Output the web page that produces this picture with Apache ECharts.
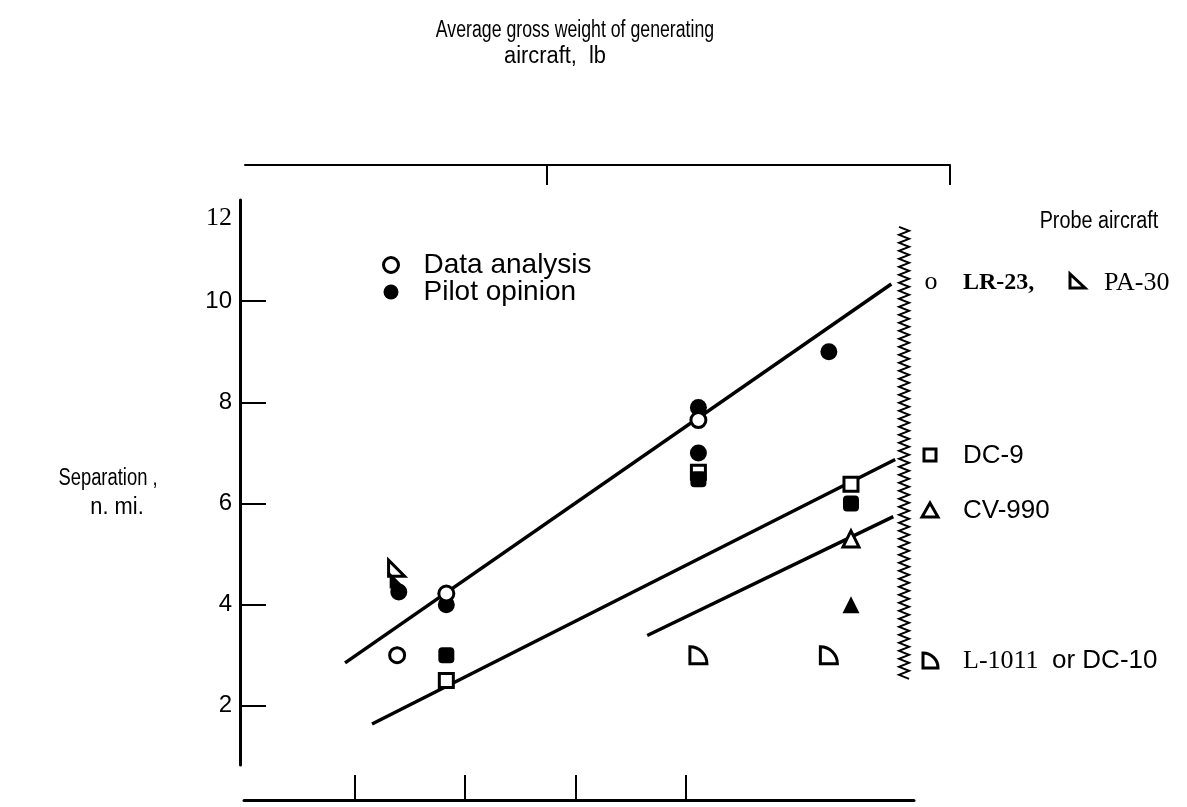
<!DOCTYPE html>
<html><head><meta charset="utf-8">
<script src="https://cdn.jsdelivr.net/npm/echarts@6/dist/echarts.min.js"></script>
<style>html,body{margin:0;padding:0;background:#fff}#c{width:1187px;height:807px}</style>
</head><body><div id="c"></div>
<script>
const SANS = "'Liberation Sans Narrow','Liberation Sans',Arial,sans-serif";
const SERIF = "'Liberation Serif','Times New Roman',serif";

// axis ticks
const yTicks = [2, 4, 6, 8, 10];
const yLabels = [2, 4, 6, 8, 10, 12];
const bottomTicks = [1, 2, 3, 4];
const topTicks = [5, 6];            // log10 of gross weight, lb

// data: [x (position along generating-aircraft axis), separation n.mi.]
const dataAnalysisLR23 = [[1.385, 3.0], [1.83, 4.22], [4.11, 7.65]];
const pilotLR23 = [[1.40, 4.25], [1.83, 4.0], [4.11, 7.9], [4.11, 7.0], [5.29, 9.0]];
const dataDC9 = [[1.83, 2.5], [4.11, 6.62], [5.49, 6.38]];
const pilotDC9 = [[1.83, 3.0], [4.11, 6.48], [5.49, 6.0]];
const dataCV990 = [[5.49, 5.3]];
const pilotCV990 = [[5.49, 4.0]];
const dataPA30 = [[1.38, 4.72]];
const pilotPA30 = [[1.39, 4.48]];
const dataL1011 = [[4.11, 3.0], [5.29, 3.0]];

// fitted lines
const fitLR23 = [[0.914, 2.85], [5.855, 10.34]];
const fitDC9 = [[1.158, 1.64], [5.89, 6.87]];
const fitCV990 = [[3.647, 3.39], [5.873, 5.74]];

// axis break (zigzag) location
const breakX = 5.97;
const breakY = [2.51, 11.47];

const RTRI = 'path://M0,0 L0,10 L10,10 Z';
const QUART = 'path://M0,0 L0,10 L10,10 A10,10 0 0 0 0,0 Z';

const openStyle = {color: '#fff', borderColor: '#000', borderWidth: 3, opacity: 1};
const fillStyle = {color: '#000', opacity: 1};

function lineSeries(d) {
  return {type: 'line', data: d, symbol: 'none', silent: true,
    lineStyle: {color: '#000', width: 3.5}, xAxisIndex: 0, yAxisIndex: 0, z: 1};
}
function scat(name, d, symbol, size, style) {
  return {type: 'scatter', name: name, data: d, symbol: symbol, symbolSize: size,
    itemStyle: style, xAxisIndex: 0, yAxisIndex: 0, z: 3};
}

const chart = echarts.init(document.getElementById('c'), null, {renderer: 'canvas'});
chart.setOption({
  animation: false,
  backgroundColor: '#fff',
  grid: [
    {left: 244, top: 200, width: 670, height: 565},
    {left: 245, top: 165, width: 705, height: 20}
  ],
  xAxis: [
    {gridIndex: 0, type: 'value', min: 0, max: 6.06, position: 'bottom', offset: 35,
      axisLine: {show: true, onZero: false, lineStyle: {color: '#000', width: 3}},
      axisTick: {show: true, inside: true, length: 25, customValues: bottomTicks, lineStyle: {color: '#000', width: 2}},
      axisLabel: {show: false}, splitLine: {show: false}},
    {gridIndex: 1, type: 'value', min: 4.25, max: 6, position: 'top',
      axisLine: {show: true, onZero: false, lineStyle: {color: '#000', width: 2}},
      axisTick: {show: true, inside: true, length: 20, customValues: topTicks, lineStyle: {color: '#000', width: 2}},
      axisLabel: {show: false}, splitLine: {show: false}}
  ],
  yAxis: [
    {gridIndex: 0, type: 'value', min: 0.83, max: 12, offset: 4,
      axisLine: {show: true, onZero: false, lineStyle: {color: '#000', width: 3}},
      axisTick: {show: true, inside: true, length: 26, customValues: yTicks, lineStyle: {color: '#000', width: 2}},
      axisLabel: {show: true, customValues: yLabels, margin: 8, color: '#000', fontFamily: SANS, fontSize: 24,
        formatter: function (v) { return v === 12 ? '{s|12}' : String(v); },
        rich: {s: {fontFamily: SERIF, fontSize: 26, color: '#000', padding: [36, 0, 0, 0]}}},
      splitLine: {show: false}},
    {gridIndex: 1, type: 'value', show: false}
  ],
  legend: {
    left: 377, top: 246, orient: 'vertical', itemGap: -1, itemWidth: 15, itemHeight: 15, selectedMode: false,
    data: [
      {name: 'Data analysis', icon: 'circle', itemStyle: {color: '#fff', borderColor: '#000', borderWidth: 3, opacity: 1}},
      {name: 'Pilot opinion', icon: 'circle', itemStyle: {color: '#000', borderWidth: 0, opacity: 1}}
    ],
    textStyle: {fontFamily: SANS, fontSize: 28, color: '#000', padding: [0, 0, 0, 20]}
  },
  series: [
    lineSeries(fitLR23), lineSeries(fitDC9), lineSeries(fitCV990),
    scat('Pilot opinion', pilotLR23, 'circle', 17, fillStyle),
    scat('Data analysis', dataAnalysisLR23, 'circle', 15, openStyle),
    scat('PA-30 data', dataPA30, RTRI, 16, openStyle),
    scat('PA-30 pilot', pilotPA30, RTRI, 16, fillStyle),
    scat('DC-9 data', dataDC9, 'rect', 14, openStyle),
    scat('DC-9 pilot', pilotDC9, 'roundRect', 16, fillStyle),
    scat('CV-990 data', dataCV990, 'triangle', 16, openStyle),
    scat('CV-990 pilot', pilotCV990, 'triangle', 17, fillStyle),
    scat('L-1011 data', dataL1011, QUART, 17, openStyle)
  ]
});

function txt(text, x, y, size, family, align, weight, sx) {
  return {type: 'text', x: x, y: y, scaleX: sx || 1, silent: true,
    style: {text: text, fill: '#000', font: (weight || 'normal') + ' ' + size + 'px ' + family,
      textAlign: align || 'left', textVerticalAlign: 'middle'}};
}
const strokeStyle = {fill: '#fff', stroke: '#000', lineWidth: 3};

const zTop = chart.convertToPixel({gridIndex: 0}, [breakX, breakY[1]]);
const zBot = chart.convertToPixel({gridIndex: 0}, [breakX, breakY[0]]);
const zig = [];
let k = 0;
for (let yy = zTop[1]; yy <= zBot[1]; yy += 4) { zig.push([zTop[0] + (k % 2 ? 5 : -5), yy]); k++; }

chart.setOption({
  graphic: {elements: [
    txt('Average gross weight of generating', 575, 31, 23, SANS, 'center', 'normal', 0.77),
    txt('aircraft,  lb', 555, 57, 23, SANS, 'center', 'normal', 0.95),
    txt('Separation ,', 108, 479, 23, SANS, 'center', 'normal', 0.8),
    txt('n. mi.', 117, 508, 23, SANS, 'center', 'normal', 0.95),
    txt('Probe aircraft', 1099, 222, 23, SANS, 'center', 'normal', 0.86),
    txt('o', 931, 282, 26, SERIF, 'center'),
    txt('LR-23,', 963, 283, 24, SERIF, 'left', 'bold'),
    {type: 'polygon', silent: true, shape: {points: [[1070, 274], [1070, 288], [1085, 288]]}, style: strokeStyle},
    txt('PA-30', 1104, 283, 26, SERIF, 'left'),
    {type: 'rect', silent: true, shape: {x: 924, y: 449, width: 12, height: 12}, style: strokeStyle},
    txt('DC-9', 963, 456, 26, SANS, 'left'),
    {type: 'polygon', silent: true, shape: {points: [[930, 503], [922, 517], [938, 517]]}, style: strokeStyle},
    txt('CV-990', 963, 511, 26, SANS, 'left'),
    {type: 'sector', silent: true, shape: {cx: 923, cy: 668, r: 15, startAngle: -Math.PI / 2, endAngle: 0}, style: strokeStyle},
    txt('L-1011', 963, 661, 26, SERIF, 'left'),
    txt('or DC-10', 1052, 661, 26, SANS, 'left'),
    {type: 'polyline', silent: true, shape: {points: zig}, style: {stroke: '#000', lineWidth: 2, fill: null}}
  ]}
});
</script></body></html>
